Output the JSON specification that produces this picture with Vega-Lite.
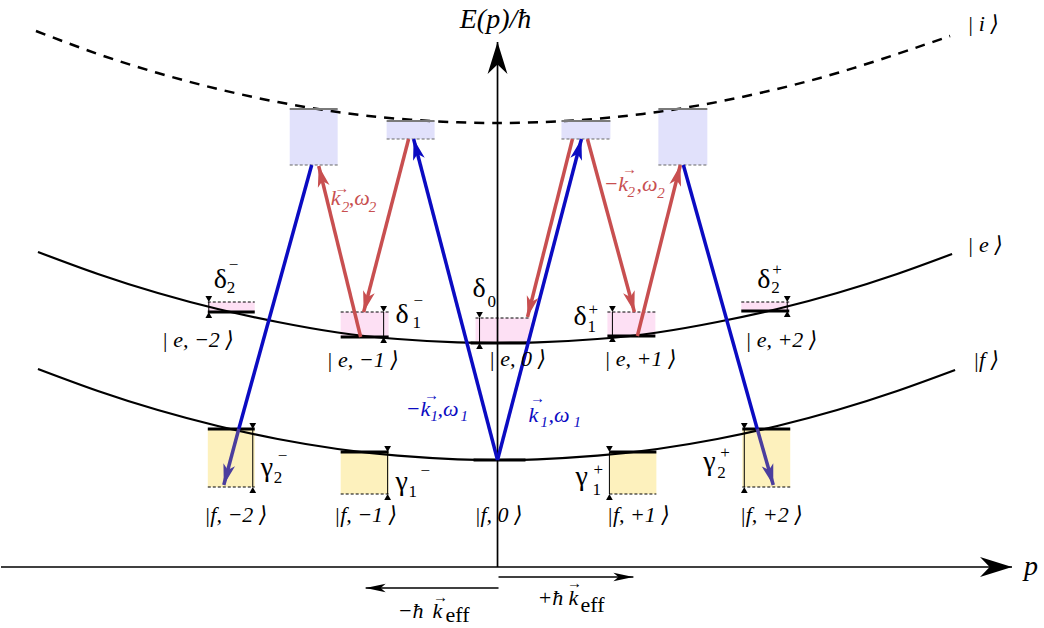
{
 "$schema": "https://vega.github.io/schema/vega-lite/v6.json",
 "width": 1044, "height": 628,
 "autosize": {"type": "fit", "contains": "padding"},
 "padding": 0,
 "background": "white",
 "config": {"view": {"stroke": null}, "text": {"font": "'Liberation Serif', 'DejaVu Serif', 'Times New Roman', serif"}},
 "datasets": {
  "curves": [
   {"level":"e","x":-460,"y":376},{"level":"e","x":-400,"y":354},{"level":"e","x":-340,"y":335},{"level":"e","x":-280,"y":319},{"level":"e","x":-220,"y":306},{"level":"e","x":-160,"y":295.5},{"level":"e","x":-100,"y":289},{"level":"e","x":-40,"y":285.7},{"level":"e","x":0,"y":285},{"level":"e","x":40,"y":285.7},{"level":"e","x":100,"y":289},{"level":"e","x":160,"y":295.5},{"level":"e","x":220,"y":306},{"level":"e","x":280,"y":319},{"level":"e","x":340,"y":335},{"level":"e","x":400,"y":354},{"level":"e","x":455,"y":374},
   {"level":"f","x":-460,"y":259},{"level":"f","x":-400,"y":237},{"level":"f","x":-340,"y":218},{"level":"f","x":-280,"y":202},{"level":"f","x":-220,"y":189},{"level":"f","x":-160,"y":179},{"level":"f","x":-100,"y":172.3},{"level":"f","x":-40,"y":168.7},{"level":"f","x":0,"y":168},{"level":"f","x":40,"y":168.7},{"level":"f","x":100,"y":172.3},{"level":"f","x":160,"y":179},{"level":"f","x":220,"y":189},{"level":"f","x":280,"y":202},{"level":"f","x":340,"y":218},{"level":"f","x":400,"y":237},{"level":"f","x":458,"y":258},
   {"level":"i","x":-462,"y":597},{"level":"i","x":-400,"y":574},{"level":"i","x":-340,"y":555},{"level":"i","x":-280,"y":539},{"level":"i","x":-220,"y":526},{"level":"i","x":-160,"y":516},{"level":"i","x":-100,"y":509.3},{"level":"i","x":-40,"y":505.7},{"level":"i","x":0,"y":505},{"level":"i","x":40,"y":505.7},{"level":"i","x":100,"y":509.3},{"level":"i","x":160,"y":516},{"level":"i","x":220,"y":526},{"level":"i","x":280,"y":539},{"level":"i","x":340,"y":555},{"level":"i","x":400,"y":574},{"level":"i","x":453,"y":592}
  ],
  "boxes": [
   {"state":"e","x":-290,"x2":-243,"y":316,"y2":326},
   {"state":"e","x":-157,"x2":-109,"y":291,"y2":316},
   {"state":"e","x":-22,"x2":33,"y":285,"y2":310},
   {"state":"e","x":110,"x2":158,"y":292,"y2":316},
   {"state":"e","x":244,"x2":292,"y":317,"y2":326},
   {"state":"f","x":-290,"x2":-243,"y":141,"y2":199},
   {"state":"f","x":-157,"x2":-109,"y":134,"y2":176},
   {"state":"f","x":112,"x2":159,"y":134,"y2":176},
   {"state":"f","x":245,"x2":293,"y":141,"y2":199},
   {"state":"i","x":-208,"x2":-160,"y":463,"y2":519},
   {"state":"i","x":-111,"x2":-63,"y":489,"y2":507},
   {"state":"i","x":64,"x2":113,"y":489,"y2":507},
   {"state":"i","x":161,"x2":210,"y":463,"y2":519}
  ],
  "levels": [
   {"level":"e","x":-290,"x2":-243,"y":316},
   {"level":"e","x":-157,"x2":-109,"y":291},
   {"level":"e","x":-27,"x2":30,"y":285},
   {"level":"e","x":110,"x2":158,"y":292},
   {"level":"e","x":244,"x2":292,"y":317},
   {"level":"f","x":-290,"x2":-243,"y":199},
   {"level":"f","x":-157,"x2":-109,"y":176},
   {"level":"f","x":-24,"x2":28,"y":168},
   {"level":"f","x":112,"x2":159,"y":176},
   {"level":"f","x":245,"x2":293,"y":199},
   {"level":"i","x":-208,"x2":-160,"y":519},
   {"level":"i","x":-111,"x2":-63,"y":507},
   {"level":"i","x":64,"x2":113,"y":507},
   {"level":"i","x":161,"x2":210,"y":519}
  ],
  "edges": [
   {"level":"e","x":-290,"x2":-243,"y":326},
   {"level":"e","x":-157,"x2":-109,"y":316},
   {"level":"e","x":-22,"x2":33,"y":310},
   {"level":"e","x":110,"x2":158,"y":316},
   {"level":"e","x":244,"x2":292,"y":326},
   {"level":"f","x":-290,"x2":-243,"y":141},
   {"level":"f","x":-157,"x2":-109,"y":134},
   {"level":"f","x":112,"x2":159,"y":134},
   {"level":"f","x":245,"x2":293,"y":141},
   {"level":"i","x":-208,"x2":-160,"y":463},
   {"level":"i","x":-111,"x2":-63,"y":489},
   {"level":"i","x":64,"x2":113,"y":489},
   {"level":"i","x":161,"x2":210,"y":463}
  ],
  "markers": [
   {"x":-289,"y":326,"y2":316},
   {"x":-114,"y":316,"y2":291},
   {"x":-18,"y":310,"y2":285},
   {"x":115,"y":316,"y2":292},
   {"x":290,"y":326,"y2":317},
   {"x":-245,"y":199,"y2":141},
   {"x":-110,"y":176,"y2":134},
   {"x":112,"y":176,"y2":134},
   {"x":247,"y":199,"y2":141}
  ],
  "beams": [
   {"beam":"beam1","x":0,"y":168,"x2":-84,"y2":489,"head":true},
   {"beam":"beam1","x":0,"y":168,"x2":84,"y2":489,"head":true},
   {"beam":"beam1","x":-186,"y":463,"x2":-259,"y2":199,"head":false},
   {"beam":"beam1end","x":-259,"y":199,"x2":-274,"y2":143,"head":true},
   {"beam":"beam1","x":186,"y":463,"x2":260,"y2":199,"head":false},
   {"beam":"beam1end","x":260,"y":199,"x2":276,"y2":143,"head":true},
   {"beam":"beam2","x":-137,"y":291,"x2":-179,"y2":462,"head":true},
   {"beam":"beam2","x":-89,"y":489,"x2":-134,"y2":316,"head":true},
   {"beam":"beam2","x":75,"y":489,"x2":30,"y2":311,"head":true},
   {"beam":"beam2","x":90,"y":489,"x2":137,"y2":316,"head":true},
   {"beam":"beam2","x":140,"y":292,"x2":183,"y2":463,"head":true}
  ],
  "frame": [
   {"kind":"axis","x":-497,"y":61,"x2":515,"y2":61},
   {"kind":"axis","x":0,"y":61,"x2":0,"y2":586},
   {"kind":"momentum","x":1,"y":51,"x2":136,"y2":51},
   {"kind":"momentum","x":1,"y":40,"x2":-132,"y2":40}
  ],
  "kets": [
   {"t":"| e, −2 ⟩","x":-300,"y":281},
   {"t":"| e, −1 ⟩","x":-135,"y":261},
   {"t":"| e, 0 ⟩","x":20,"y":262},
   {"t":"| e, +1 ⟩","x":143,"y":262},
   {"t":"| e, +2 ⟩","x":284,"y":281},
   {"t":"|f, −2 ⟩","x":-262,"y":106},
   {"t":"|f, −1 ⟩","x":-132,"y":106},
   {"t":"|f, 0 ⟩","x":1,"y":106},
   {"t":"|f, +1 ⟩","x":141,"y":106},
   {"t":"|f, +2 ⟩","x":274,"y":106},
   {"t":"| i ⟩","x":486,"y":597},
   {"t":"| e ⟩","x":488,"y":376},
   {"t":"|f ⟩","x":489,"y":261}
  ],
  "greek": [
   {"t":"δ","x":-284,"y":340},
   {"t":"δ","x":-102,"y":305},
   {"t":"δ","x":-25,"y":331},
   {"t":"δ","x":76,"y":303},
   {"t":"δ","x":260,"y":340},
   {"t":"γ","x":-237,"y":152},
   {"t":"γ","x":-102,"y":138},
   {"t":"γ","x":78,"y":143},
   {"t":"γ","x":206,"y":158}
  ],
  "scripts": [
   {"t":"2","x":-271,"y":335},{"t":"−","x":-269,"y":358},
   {"t":"1","x":-85,"y":300},{"t":"−","x":-84,"y":322},
   {"t":"0","x":-10,"y":321},
   {"t":"1","x":90,"y":296},{"t":"+","x":91,"y":313},
   {"t":"2","x":274,"y":335},{"t":"+","x":275,"y":353},
   {"t":"2","x":-224,"y":145},{"t":"−","x":-220,"y":167},
   {"t":"1","x":-89,"y":131},{"t":"−","x":-77,"y":152},
   {"t":"1","x":95,"y":133},{"t":"+","x":96,"y":153},
   {"t":"2","x":220,"y":150},{"t":"+","x":223,"y":170}
  ],
  "beamText": [
   {"t":"k","x":-167,"y":423,"beam":"beam2"},
   {"t":",ω","x":-149,"y":423,"beam":"beam2"},
   {"t":"−k","x":106,"y":437,"beam":"beam2"},
   {"t":",ω","x":139,"y":437,"beam":"beam2"},
   {"t":"−k","x":-92,"y":212,"beam":"beam1"},
   {"t":",ω","x":-60,"y":212,"beam":"beam1"},
   {"t":"k","x":31,"y":206,"beam":"beam1"},
   {"t":",ω","x":51,"y":206,"beam":"beam1"},
   {"t":"−ħ","x":-100,"y":10,"beam":"none"},
   {"t":"k","x":-65,"y":10,"beam":"none"},
   {"t":"+ħ","x":40,"y":23,"beam":"none"},
   {"t":"k","x":71,"y":23,"beam":"none"}
  ],
  "beamSubs": [
   {"t":"2","x":-156,"y":416,"beam":"beam2"},
   {"t":"2","x":-129,"y":416,"beam":"beam2"},
   {"t":"2","x":130,"y":431,"beam":"beam2"},
   {"t":"2","x":160,"y":430,"beam":"beam2"},
   {"t":"1","x":-67,"y":207,"beam":"beam1"},
   {"t":"1","x":-37,"y":207,"beam":"beam1"},
   {"t":"1","x":43,"y":201,"beam":"beam1"},
   {"t":"1","x":76,"y":201,"beam":"beam1"}
  ],
  "vecs": [
   {"x":-156,"y":440,"beam":"beam2"},
   {"x":132,"y":459,"beam":"beam2"},
   {"x":-66,"y":233,"beam":"beam1"},
   {"x":40,"y":230,"beam":"beam1"},
   {"x":-57,"y":31,"beam":"none"},
   {"x":77,"y":45,"beam":"none"}
  ],
  "eff": [
   {"t":"eff","x":-52,"y":6},
   {"t":"eff","x":83,"y":16}
  ],
  "axisText": [
   {"t":"E(p)/ħ","x":-2,"y":600},
   {"t":"p","x":534,"y":53}
  ]
 },
 "encoding": {
  "x": {"field":"x","type":"quantitative","scale":{"domain":[-497,547],"nice":false,"zero":false},"axis":null},
  "y": {"field":"y","type":"quantitative","scale":{"domain":[0,628],"nice":false,"zero":false},"axis":null}
 },
 "layer": [
  {"data":{"name":"boxes"},"mark":{"type":"rect"},
   "encoding":{"x2":{"field":"x2"},"y2":{"field":"y2"},
    "fill":{"field":"state","type":"nominal","scale":{"domain":["e","f","i"],"range":["#fde0f4","#fdf1bd","#e1e1fb"]},"legend":null}}},
  {"data":{"name":"curves"},"transform":[{"filter":"datum.level != 'i'"}],
   "mark":{"type":"line","color":"black","strokeWidth":2.2,"interpolate":"natural"},
   "encoding":{"detail":{"field":"level"}}},
  {"data":{"name":"curves"},"transform":[{"filter":"datum.level == 'i'"}],
   "mark":{"type":"line","color":"black","strokeWidth":2.5,"strokeDash":[10,8],"interpolate":"natural"},
   "encoding":{"detail":{"field":"level"}}},
  {"data":{"name":"levels"},"transform":[{"filter":"datum.level != 'i'"}],
   "mark":{"type":"rule","color":"black","strokeWidth":3},
   "encoding":{"x2":{"field":"x2"}}},
  {"data":{"name":"levels"},"transform":[{"filter":"datum.level == 'i'"}],
   "mark":{"type":"rule","color":"#7a7a7a","strokeWidth":2},
   "encoding":{"x2":{"field":"x2"}}},
  {"data":{"name":"edges"},"transform":[{"filter":"datum.level != 'i'"}],
   "mark":{"type":"rule","color":"black","strokeWidth":1,"strokeDash":[3,2]},
   "encoding":{"x2":{"field":"x2"}}},
  {"data":{"name":"edges"},"transform":[{"filter":"datum.level == 'i'"}],
   "mark":{"type":"rule","color":"#666666","strokeWidth":1,"strokeDash":[3,2]},
   "encoding":{"x2":{"field":"x2"}}},
  {"data":{"name":"markers"},
   "mark":{"type":"rule","color":"black","strokeWidth":1},
   "encoding":{"y2":{"field":"y2"}}},
  {"data":{"name":"markers"},
   "mark":{"type":"point","shape":"triangle-down","filled":true,"color":"black","opacity":1,"size":45,"yOffset":-3},
   "encoding":{}},
  {"data":{"name":"markers"},
   "mark":{"type":"point","shape":"triangle-up","filled":true,"color":"black","opacity":1,"size":45,"yOffset":3},
   "encoding":{"y":{"field":"y2","type":"quantitative","scale":{"domain":[0,628],"nice":false,"zero":false},"axis":null}}},
  {"data":{"name":"frame"},
   "mark":{"type":"rule","color":"black","strokeWidth":1.7},
   "encoding":{"x2":{"field":"x2"},"y2":{"field":"y2"}}},
  {"data":{"name":"beams"},
   "mark":{"type":"rule","strokeWidth":3.5,"strokeCap":"butt"},
   "encoding":{"x2":{"field":"x2"},"y2":{"field":"y2"},
    "color":{"field":"beam","type":"nominal","scale":{"domain":["none","beam1","beam2","beam1end"],"range":["#000000","#0b0bc2","#c84f50","#4b3e9e"]},"legend":null}}},
  {"data":{"name":"beams"},
   "transform":[{"filter":"datum.head"},{"calculate":"(atan2(datum.x2 - datum.x, datum.y2 - datum.y) * 180 / PI + 360) % 360","as":"ang"}],
   "mark":{"type":"point","shape":"M0,0L0.6,2.1L0,1.55L-0.6,2.1Z","filled":true,"opacity":1,"size":400,"strokeWidth":0},
   "encoding":{
    "x":{"field":"x2","type":"quantitative","scale":{"domain":[-497,547],"nice":false,"zero":false},"axis":null},
    "y":{"field":"y2","type":"quantitative","scale":{"domain":[0,628],"nice":false,"zero":false},"axis":null},
    "angle":{"field":"ang","type":"quantitative","scale":null},
    "color":{"field":"beam","type":"nominal","scale":{"domain":["none","beam1","beam2","beam1end"],"range":["#000000","#0b0bc2","#c84f50","#4b3e9e"]},"legend":null}}},
  {"data":{"name":"frame"},
   "transform":[{"filter":"datum.kind == 'axis'"},{"calculate":"(atan2(datum.x2 - datum.x, datum.y2 - datum.y) * 180 / PI + 360) % 360","as":"ang"}],
   "mark":{"type":"point","shape":"M0,0L0.62,2L0,1.4L-0.62,2Z","filled":true,"color":"black","opacity":1,"size":1024,"strokeWidth":0},
   "encoding":{
    "x":{"field":"x2","type":"quantitative","scale":{"domain":[-497,547],"nice":false,"zero":false},"axis":null},
    "y":{"field":"y2","type":"quantitative","scale":{"domain":[0,628],"nice":false,"zero":false},"axis":null},
    "angle":{"field":"ang","type":"quantitative","scale":null}}},
  {"data":{"name":"frame"},
   "transform":[{"filter":"datum.kind == 'momentum'"},{"calculate":"(atan2(datum.x2 - datum.x, datum.y2 - datum.y) * 180 / PI + 360) % 360","as":"ang"}],
   "mark":{"type":"point","shape":"M0,0L0.42,2L0,1.5L-0.42,2Z","filled":true,"color":"black","opacity":1,"size":400,"strokeWidth":0},
   "encoding":{
    "x":{"field":"x2","type":"quantitative","scale":{"domain":[-497,547],"nice":false,"zero":false},"axis":null},
    "y":{"field":"y2","type":"quantitative","scale":{"domain":[0,628],"nice":false,"zero":false},"axis":null},
    "angle":{"field":"ang","type":"quantitative","scale":null}}},
  {"data":{"name":"kets"},
   "mark":{"type":"text","fontStyle":"italic","fontSize":22,"align":"center","baseline":"alphabetic","color":"black"},
   "encoding":{"text":{"field":"t"}}},
  {"data":{"name":"greek"},
   "mark":{"type":"text","fontSize":28,"align":"left","baseline":"alphabetic","color":"black"},
   "encoding":{"text":{"field":"t"}}},
  {"data":{"name":"scripts"},
   "mark":{"type":"text","fontSize":17,"align":"left","baseline":"alphabetic","color":"black"},
   "encoding":{"text":{"field":"t"}}},
  {"data":{"name":"beamText"},
   "mark":{"type":"text","fontStyle":"italic","fontSize":22,"align":"left","baseline":"alphabetic"},
   "encoding":{"text":{"field":"t"},
    "color":{"field":"beam","type":"nominal","scale":{"domain":["none","beam1","beam2","beam1end"],"range":["#000000","#0b0bc2","#c84f50","#4b3e9e"]},"legend":null}}},
  {"data":{"name":"beamSubs"},
   "mark":{"type":"text","fontStyle":"italic","fontSize":15,"align":"left","baseline":"alphabetic"},
   "encoding":{"text":{"field":"t"},
    "color":{"field":"beam","type":"nominal","scale":{"domain":["none","beam1","beam2","beam1end"],"range":["#000000","#0b0bc2","#c84f50","#4b3e9e"]},"legend":null}}},
  {"data":{"name":"vecs"},
   "mark":{"type":"text","fontSize":15,"align":"center","baseline":"middle","text":"→"},
   "encoding":{
    "color":{"field":"beam","type":"nominal","scale":{"domain":["none","beam1","beam2","beam1end"],"range":["#000000","#0b0bc2","#c84f50","#4b3e9e"]},"legend":null}}},
  {"data":{"name":"eff"},
   "mark":{"type":"text","fontSize":22,"align":"left","baseline":"alphabetic","color":"black"},
   "encoding":{"text":{"field":"t"}}},
  {"data":{"name":"axisText"},
   "mark":{"type":"text","fontStyle":"italic","fontSize":28,"align":"center","baseline":"alphabetic","color":"black"},
   "encoding":{"text":{"field":"t"}}}
 ]
}
